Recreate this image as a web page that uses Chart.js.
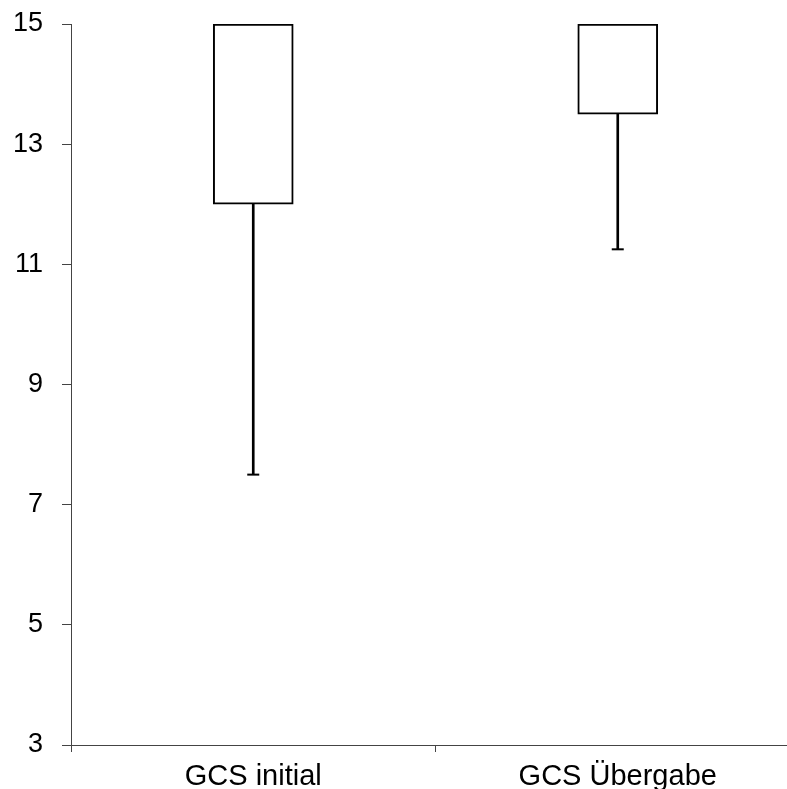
<!DOCTYPE html>
<html>
<head>
<meta charset="utf-8">
<script src="https://cdn.jsdelivr.net/npm/chart.js@4/dist/chart.umd.min.js"></script>
<style>
  html, body { margin: 0; padding: 0; background: #fff; overflow: hidden; width: 787px; height: 789px; }
  #wrap { width: 808px; height: 789px; }
</style>
</head>
<body>
<div id="wrap"><canvas id="c" width="808" height="789"></canvas></div>
<script>
const categories = ['GCS initial', 'GCS Übergabe'];
const whiskerLow = [7.5, 11.25];
const q1 = [12, 13.5];
const q3 = [15, 15];
const yTicks = [3, 5, 7, 9, 11, 13, 15];

const boxData = categories.map((c, i) => [q1[i], q3[i]]);
const whiskerData = categories.map((c, i) => [whiskerLow[i], q1[i]]);

const YFONT = { family: '"Liberation Sans", Arial, sans-serif', size: 27 };
const XFONT = { family: '"Liberation Sans", Arial, sans-serif', size: 29 };
const AXIS = '#444';

new Chart(document.getElementById('c'), {
  data: {
    labels: categories,
    datasets: [
      {
        type: 'bar',
        data: boxData,
        backgroundColor: '#ffffff',
        borderColor: '#000000',
        borderWidth: 2,
        borderSkipped: false,
        barThickness: 80,
        grouped: false,
        order: 1
      },
      {
        type: 'bar',
        data: whiskerData,
        backgroundColor: '#000000',
        borderWidth: 0,
        barThickness: 2,
        grouped: false,
        order: 2
      },
      {
        type: 'line',
        data: whiskerLow,
        showLine: false,
        pointStyle: 'line',
        pointRadius: 6,
        pointBorderWidth: 2,
        pointBorderColor: '#000000',
        order: 0
      }
    ]
  },
  options: {
    responsive: false,
    animation: false,
    events: [],
    layout: { padding: { top: 24, right: 1, left: 0, bottom: 0 } },
    plugins: { legend: { display: false }, tooltip: { enabled: false } },
    scales: {
      x: {
        type: 'category',
        offset: true,
        grid: { display: true, offset: true, drawOnChartArea: false, drawTicks: true, tickLength: 7, color: AXIS, lineWidth: 1 },
        border: { display: true, color: AXIS, width: 1 },
        ticks: { color: '#000', font: XFONT, padding: 8, maxRotation: 0, autoSkip: false },
        afterFit: (s) => { s.height = 44; s.paddingLeft = 0; s.paddingRight = 0; }
      },
      y: {
        type: 'linear',
        min: 3,
        max: 15,
        afterBuildTicks: (s) => { s.ticks = yTicks.map(v => ({ value: v })); },
        grid: { display: true, drawOnChartArea: false, drawTicks: true, tickLength: 9, color: AXIS, lineWidth: 1 },
        border: { display: true, color: AXIS, width: 1 },
        ticks: { color: '#000', font: YFONT, padding: 19 },
        afterFit: (s) => { s.width = 71; s.paddingTop = 0; s.paddingBottom = 0; }
      }
    }
  }
});
</script>
</body>
</html>
